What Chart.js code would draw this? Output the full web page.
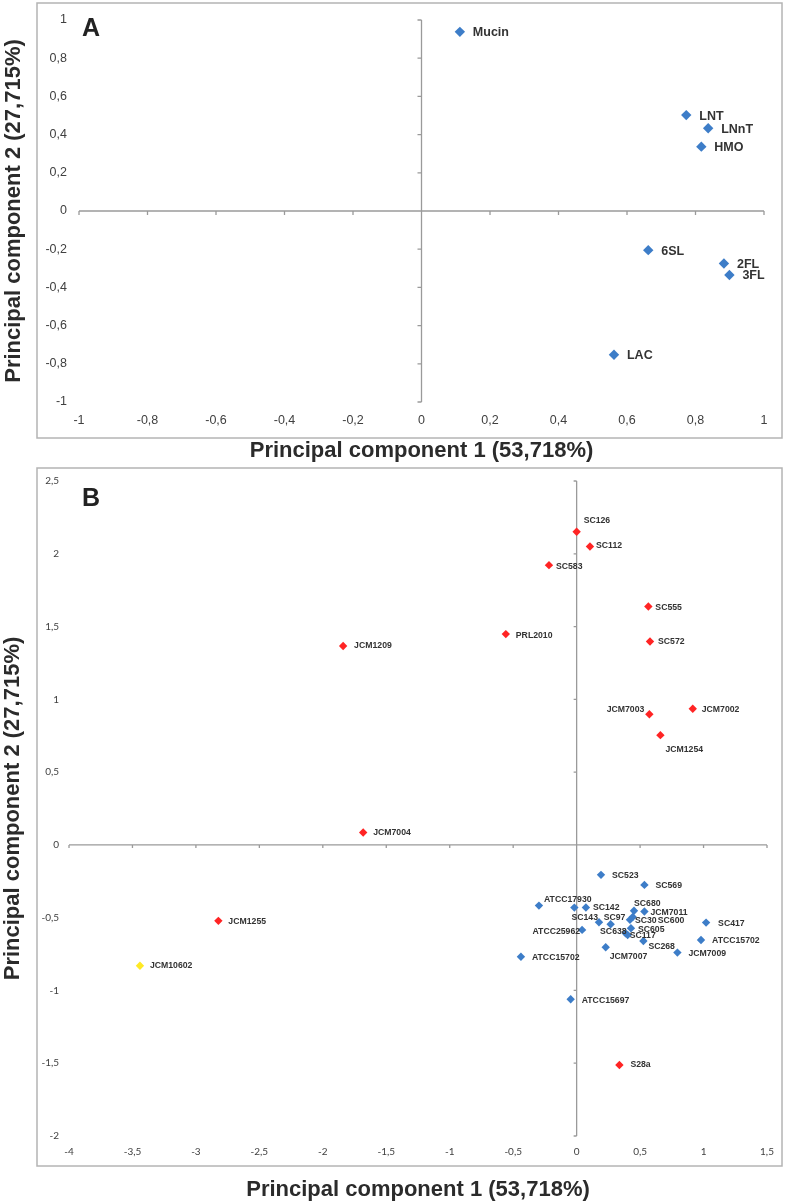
<!DOCTYPE html>
<html>
<head>
<meta charset="utf-8">
<script src="https://cdn.jsdelivr.net/npm/chart.js@4.4.0/dist/chart.umd.min.js"></script>
<style>
  body { margin: 0; background: #fff; }
  .panel { position: absolute; left: 0; width: 787px; }
  #panelA { top: 0; height: 465px; }
  #panelB { top: 465px; height: 739px; }
</style>
</head>
<body>
<div class="panel" id="panelA"><canvas id="chartA" width="787" height="465"></canvas></div>
<div class="panel" id="panelB"><canvas id="chartB" width="787" height="739"></canvas></div>
<script>
// Panel A - substrates (loadings)
const aNames = ['Mucin', 'LNT', 'LNnT', 'HMO', '6SL', '2FL', '3FL', 'LAC'];
const aPC1 = [0.112, 0.773, 0.837, 0.817, 0.662, 0.883, 0.899, 0.562];
const aPC2 = [0.938, 0.502, 0.433, 0.337, -0.205, -0.275, -0.335, -0.753];
const aTicks = [-1, -0.8, -0.6, -0.4, -0.2, 0, 0.2, 0.4, 0.6, 0.8, 1];

// Panel B - strains (scores)
const redNames = ['SC126', 'SC112', 'SC583', 'SC555', 'PRL2010', 'SC572', 'JCM7003', 'JCM7002', 'JCM1254', 'JCM1209', 'JCM7004', 'JCM1255', 'S28a'];
const redPC1 = [0.000, 0.105, -0.218, 0.565, -0.558, 0.578, 0.573, 0.915, 0.660, -1.840, -1.682, -2.823, 0.337];
const redPC2 = [2.151, 2.050, 1.922, 1.638, 1.448, 1.397, 0.898, 0.935, 0.754, 1.366, 0.085, -0.522, -1.512];

const blueNames = ['SC523', 'SC569', 'ATCC17930', '', 'SC142', 'SC680', 'JCM7011', 'SC143', 'SC97', 'SC30', 'SC600', 'ATCC25962', 'SC605', 'SC638', 'SC117', 'SC268', 'SC417', 'ATCC15702', 'JCM7007', 'JCM7009', 'ATCC15702', 'ATCC15697'];
const bluePC1 = [0.192, 0.534, -0.297, -0.018, 0.073, 0.452, 0.534, 0.176, 0.268, 0.420, 0.442, 0.043, 0.428, 0.386, 0.402, 0.526, 1.020, 0.980, 0.229, 0.794, -0.439, -0.047];
const bluePC2 = [-0.206, -0.275, -0.417, -0.431, -0.430, -0.452, -0.458, -0.531, -0.545, -0.515, -0.495, -0.584, -0.573, -0.607, -0.619, -0.660, -0.534, -0.653, -0.703, -0.740, -0.768, -1.060];

const yellowNames = ['JCM10602'];
const yellowPC1 = [-3.441];
const yellowPC2 = [-0.830];

const bTicksX = [-4, -3.5, -3, -2.5, -2, -1.5, -1, -0.5, 0, 0.5, 1, 1.5];
const bTicksY = [-2, -1.5, -1, -0.5, 0, 0.5, 1, 1.5, 2, 2.5];

const axisTitleX = 'Principal component 1 (53,718%)';
const axisTitleY = 'Principal component 2 (27,715%)';

// label nudges for crowded points: [dx, dy, align]
const bLabelNudge = {
    'SC126': [7, -11], 'SC112': [6, -1], 'SC583': [7, 1], 'SC555': [7, 1],
    'PRL2010': [10, 1], 'SC572': [8, 0], 'JCM7003': [-5, -5, 'right'],
    'JCM1254': [5, 14], 'JCM1209': [11, 0], 'JCM7004': [10, 0],
    'SC523': [11, 1], 'SC569': [11, 1], 'ATCC17930': [5, -6], 'SC142': [7, 0],
    'SC680': [0, -7], 'JCM7011': [6, 1], 'SC143': [-1, -5, 'right'], 'SC97': [-7, -7],
    'SC30': [5, 1], 'SC600': [25, 4], 'ATCC25962': [-2, 2, 'right'], 'SC605': [7, 1],
    'SC638': [1, -2, 'right'], 'SC117': [2, 1], 'SC268': [5, 6], 'SC417': [12, 1],
    'ATCC15702': [11, 1], 'JCM7007': [4, 9], 'JCM7009': [11, 1], 'ATCC15697': [11, 1],
    'S28a': [11, 0], 'JCM10602': [10, 0], 'JCM1255': [10, 1]
};

const fmt = v => String(Math.round(v * 100) / 100).replace('.', ',');

function toPoints(names, xs, ys) {
    return names.map((n, i) => ({ x: xs[i], y: ys[i], name: n }));
}

// frame, panel letter and the axes crossing at zero (Excel style)
function makeDecor(letter, frame, letterPos, tickLen) {
    return {
        id: 'decor' + letter,
        beforeDraw(chart) {
            const ctx = chart.ctx;
            ctx.save();
            ctx.fillStyle = '#fff';
            ctx.fillRect(0, 0, chart.width, chart.height);
            ctx.strokeStyle = '#b4b4b4';
            ctx.lineWidth = 1.5;
            ctx.strokeRect(frame[0], frame[1], frame[2], frame[3]);
            ctx.restore();
        },
        beforeDatasetsDraw(chart) {
            const ctx = chart.ctx;
            const sx = chart.scales.x, sy = chart.scales.y;
            const x0 = sx.getPixelForValue(0);
            const y0 = sy.getPixelForValue(0);
            ctx.save();
            ctx.strokeStyle = '#9a9a9a';
            ctx.lineWidth = 1.3;
            ctx.beginPath();
            ctx.moveTo(sx.left, y0);
            ctx.lineTo(sx.right, y0);
            ctx.moveTo(x0, sy.top);
            ctx.lineTo(x0, sy.bottom);
            sx.ticks.forEach(t => {
                const px = sx.getPixelForValue(t.value);
                ctx.moveTo(px, y0);
                ctx.lineTo(px, y0 + tickLen);
            });
            sy.ticks.forEach(t => {
                const py = sy.getPixelForValue(t.value);
                ctx.moveTo(x0 - tickLen, py);
                ctx.lineTo(x0, py);
            });
            ctx.stroke();

            ctx.fillStyle = '#222';
            ctx.font = 'bold 25px "Liberation Sans", Arial, sans-serif';
            ctx.textAlign = 'left';
            ctx.textBaseline = 'alphabetic';
            ctx.fillText(letter, letterPos[0], letterPos[1]);
            ctx.restore();
        }
    };
}

function makeLabels(id, font, nudge, def) {
    return {
        id: id,
        afterDatasetsDraw(chart) {
            const ctx = chart.ctx;
            ctx.save();
            ctx.font = font;
            ctx.fillStyle = '#333';
            ctx.textBaseline = 'middle';
            chart.data.datasets.forEach((ds, di) => {
                const meta = chart.getDatasetMeta(di);
                meta.data.forEach((pt, i) => {
                    const name = ds.data[i].name;
                    if (!name) return;
                    const off = nudge[name] || def;
                    ctx.textAlign = off[2] || 'left';
                    ctx.fillText(name, pt.x + off[0], pt.y + off[1]);
                });
            });
            ctx.restore();
        }
    };
}

function scaleOpts(axis, ticks, cfg) {
    return {
        type: 'linear',
        position: axis === 'x' ? 'bottom' : 'left',
        min: ticks[0],
        max: ticks[ticks.length - 1],
        afterBuildTicks: scale => { scale.ticks = ticks.map(v => ({ value: v })); },
        afterFit: scale => {
            if (axis === 'x') scale.height = cfg.size; else scale.width = cfg.size;
        },
        grid: { display: false, drawTicks: false },
        border: { display: false },
        ticks: {
            padding: cfg.pad,
            color: '#404040',
            font: cfg.tickFont,
            callback: v => fmt(v),
            autoSkip: false,
            maxRotation: 0
        },
        title: {
            display: true,
            text: axis === 'x' ? axisTitleX : axisTitleY,
            color: '#2b2b2b',
            font: { family: '"Liberation Sans", Arial, sans-serif', size: 22, weight: 'bold' },
            padding: axis === 'x' ? { top: 0, bottom: cfg.titlePad } : { top: cfg.titlePad, bottom: 0 }
        }
    };
}

const baseOpts = {
    responsive: false,
    animation: false,
    events: [],
    plugins: { legend: { display: false }, tooltip: { enabled: false } }
};

document.addEventListener('DOMContentLoaded', () => {
    // Panel A
    new Chart(document.getElementById('chartA'), {
        type: 'scatter',
        data: {
            datasets: [{
                data: toPoints(aNames, aPC1, aPC2),
                pointStyle: 'rectRot',
                pointRadius: 5.2,
                backgroundColor: '#3d7dc8',
                borderColor: '#3d7dc8',
                borderWidth: 0
            }]
        },
        options: Object.assign({}, baseOpts, {
            layout: { padding: { top: 20, right: 23, left: 0, bottom: 0 } },
            scales: {
                x: scaleOpts('x', aTicks, { size: 63, pad: 11.5, titlePad: 1, tickFont: { family: '"Liberation Sans", Arial, sans-serif', size: 12.5 } }),
                y: scaleOpts('y', aTicks, { size: 79, pad: 12, titlePad: 1, tickFont: { family: '"Liberation Sans", Arial, sans-serif', size: 12.5 } })
            }
        }),
        plugins: [
            makeDecor('A', [37, 3, 745, 435], [82, 36], 4),
            makeLabels('labelsA', 'bold 12.5px "Liberation Sans", Arial, sans-serif', {}, [13, 1])
        ]
    });

    // Panel B
    new Chart(document.getElementById('chartB'), {
        type: 'scatter',
        data: {
            datasets: [{
                data: toPoints(blueNames, bluePC1, bluePC2),
                pointStyle: 'rectRot',
                pointRadius: 4.2,
                backgroundColor: '#3d7dc8',
                borderWidth: 0
            }, {
                data: toPoints(redNames, redPC1, redPC2),
                pointStyle: 'rectRot',
                pointRadius: 4.2,
                backgroundColor: '#ff2424',
                borderWidth: 0
            }, {
                data: toPoints(yellowNames, yellowPC1, yellowPC2),
                pointStyle: 'rectRot',
                pointRadius: 4.2,
                backgroundColor: '#ffe924',
                borderWidth: 0
            }]
        },
        options: Object.assign({}, baseOpts, {
            layout: { padding: { top: 16, right: 20, left: 0, bottom: 0 } },
            scales: {
                x: scaleOpts('x', bTicksX, { size: 68, pad: 10, titlePad: 1, tickFont: { family: 'Lato, "Open Sans", sans-serif', size: 10 } }),
                y: scaleOpts('y', bTicksY, { size: 69, pad: 10, titlePad: 0, tickFont: { family: 'Lato, "Open Sans", sans-serif', size: 10 } })
            }
        }),
        plugins: [
            makeDecor('B', [37, 3, 745, 698], [82, 41], 3),
            makeLabels('labelsB', 'bold 8.7px "Liberation Sans", Arial, sans-serif', bLabelNudge, [9, 1])
        ]
    });
});
</script>
</body>
</html>
